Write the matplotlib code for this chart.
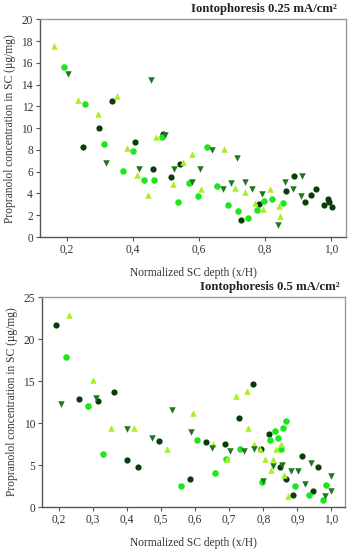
import matplotlib
matplotlib.use("Agg")
import matplotlib.pyplot as plt
from matplotlib.ticker import FuncFormatter

plt.rcParams['font.family'] = ['Liberation Serif', 'DejaVu Serif']

# ---------------- Panel A: 0.25 mA/cm2 ----------------
a_dark_x = [0.249, 0.296, 0.335, 0.405, 0.461, 0.490, 0.514, 0.543, 0.728, 0.780,
            0.863, 0.886, 0.919, 0.939, 0.955, 0.978, 0.990, 0.992, 1.001]
a_dark_y = [8.28, 9.97, 12.5, 8.75, 6.21, 9.5, 5.53, 6.67, 1.53, 3.03,
            4.25, 5.62, 3.21, 3.88, 4.37, 2.97, 3.49, 3.21, 2.72]
a_bright_x = [0.192, 0.254, 0.313, 0.370, 0.401, 0.433, 0.464, 0.489, 0.537, 0.568,
              0.596, 0.625, 0.655, 0.688, 0.718, 0.749, 0.774, 0.796, 0.822, 0.855]
a_bright_y = [15.6, 12.2, 8.56, 6.08, 7.92, 5.2, 5.2, 9.2, 3.24, 4.98,
              3.76, 8.26, 4.65, 2.97, 2.42, 1.77, 2.48, 3.3, 3.46, 3.12]
a_up_x = [0.162, 0.234, 0.295, 0.351, 0.381, 0.413, 0.444, 0.468, 0.520, 0.550,
          0.577, 0.607, 0.676, 0.708, 0.739, 0.770, 0.794, 0.816, 0.841, 0.845]
a_up_y = [17.55, 12.57, 11.3, 12.96, 8.14, 5.66, 3.82, 9.2, 4.83, 6.9,
          7.59, 4.4, 8.07, 4.5, 4.13, 3.15, 2.57, 4.43, 2.82, 1.93]
a_down_x = [0.204, 0.317, 0.419, 0.455, 0.498, 0.523, 0.578, 0.603, 0.638, 0.673,
            0.697, 0.715, 0.738, 0.760, 0.789, 0.839, 0.861, 0.884, 0.909, 0.911]
a_down_y = [14.95, 6.79, 6.24, 14.4, 9.4, 6.21, 5.02, 6.21, 7.98, 4.37,
            4.95, 7.22, 5.1, 4.37, 3.94, 1.07, 5.05, 4.43, 3.79, 5.57]

# ---------------- Panel B: 0.5 mA/cm2 ----------------
b_dark_x = [0.190, 0.258, 0.313, 0.361, 0.400, 0.432, 0.493, 0.585, 0.632, 0.686,
            0.727, 0.770, 0.793, 0.818, 0.850, 0.867, 0.887, 0.912, 0.945, 0.961]
b_dark_y = [21.67, 12.86, 12.6, 13.74, 5.64, 4.76, 7.86, 3.3, 7.74, 7.54,
            10.6, 14.64, 6.9, 8.65, 4.76, 3.38, 1.48, 6.12, 1.9, 4.76]
b_bright_x = [0.220, 0.285, 0.328, 0.558, 0.606, 0.657, 0.689, 0.730, 0.796, 0.819,
              0.833, 0.843, 0.852, 0.857, 0.865, 0.893, 0.934, 0.974, 0.984]
b_bright_y = [17.86, 12.07, 6.27, 2.5, 7.94, 4.09, 5.76, 6.95, 2.98, 7.98,
              9.1, 8.21, 6.87, 9.4, 10.24, 2.46, 1.48, 0.88, 2.67]
b_up_x = [0.228, 0.301, 0.352, 0.421, 0.518, 0.592, 0.653, 0.694, 0.721, 0.751,
          0.756, 0.773, 0.790, 0.805, 0.822, 0.829, 0.836, 0.853, 0.861, 0.871]
b_up_y = [22.86, 15.08, 9.45, 9.45, 6.95, 11.24, 7.54, 5.68, 13.18, 13.85,
          9.4, 7.54, 6.95, 5.71, 4.45, 5.68, 6.95, 7.54, 3.81, 1.31]
b_down_x = [0.207, 0.310, 0.400, 0.473, 0.531, 0.587, 0.650, 0.703, 0.743, 0.772,
            0.799, 0.829, 0.855, 0.880, 0.902, 0.922, 0.941, 0.982, 0.998, 0.999]
b_down_y = [12.3, 13.0, 9.29, 8.26, 11.6, 8.89, 6.99, 6.67, 6.63, 6.95,
            3.06, 4.85, 5.05, 4.29, 4.29, 2.74, 5.24, 1.27, 3.69, 1.9]

titles = ["Iontophoresis 0.25 mA/cm\u00b2", "Iontophoresis 0.5 mA/cm\u00b2"]
xlabel = "Normalized SC depth (x/H)"
ylabel = "Propranolol concentration in SC (\u00b5g/mg)"
a_xticks = [0.2, 0.4, 0.6, 0.8, 1.0]
a_yticks = [0, 2, 4, 6, 8, 10, 12, 14, 16, 18, 20]
b_xticks = [0.2, 0.3, 0.4, 0.5, 0.6, 0.7, 0.8, 0.9, 1.0]
b_yticks = [0, 5, 10, 15, 20, 25]

c_dark = '#083c08'
c_bright = '#1ce61c'
c_up = '#a8f01e'
c_down = '#1e781e'

fig = plt.figure(figsize=(3.5, 5.5), dpi=100)
axA = fig.add_axes([0.114, 0.569, 0.875, 0.396])
axB = fig.add_axes([0.120, 0.078, 0.866, 0.382])

comma = FuncFormatter(lambda v, p: f"{v:.1f}".replace('.', ','))

FS = 8.3

def draw(ax, dx, dy, bx, by, ux, uy, wx, wy):
    ms = 20
    ax.scatter(dx, dy, s=ms, marker='o', color=c_dark, linewidths=0, zorder=3)
    ax.scatter(bx, by, s=ms + 2, marker='o', color=c_bright, linewidths=0, zorder=3)
    ax.scatter(ux, uy, s=ms + 2, marker='^', color=c_up, linewidths=0, zorder=3)
    ax.scatter(wx, wy, s=ms + 2, marker='v', color=c_down, linewidths=0, zorder=3)
    for s in ['left', 'bottom']:
        ax.spines[s].set_color('#555555')
        ax.spines[s].set_linewidth(1.0)
    for s in ['top', 'right']:
        ax.spines[s].set_color('#9a9a9a')
        ax.spines[s].set_linewidth(1.0)
    ax.tick_params(direction='out', length=3, width=0.8, color='#555555',
                   labelsize=FS, labelcolor='#333333', pad=2)
    ax.xaxis.set_major_formatter(comma)
    ax.set_xlabel(xlabel, fontsize=FS, color='#333333', labelpad=8)
    ax.set_ylabel(ylabel, fontsize=FS, color='#333333', labelpad=4)

draw(axA, a_dark_x, a_dark_y, a_bright_x, a_bright_y, a_up_x, a_up_y, a_down_x, a_down_y)
axA.set_xlim(0.118, 1.045)
axA.set_ylim(0, 20)
axA.set_xticks(a_xticks)
axA.set_yticks(a_yticks)

draw(axB, b_dark_x, b_dark_y, b_bright_x, b_bright_y, b_up_x, b_up_y, b_down_x, b_down_y)
axB.set_xlim(0.15, 1.04)
axB.set_ylim(0, 25)
axB.set_xticks(b_xticks)
axB.set_yticks(b_yticks)

fig.text(337 / 350, 1 - 9 / 550, titles[0], ha='right', va='center',
         fontsize=9.2, fontweight='bold', color='#222222')
fig.text(340 / 350, 1 - 287 / 550, titles[1], ha='right', va='center',
         fontsize=9.2, fontweight='bold', color='#222222')

fig.savefig('out.png', dpi=100)
